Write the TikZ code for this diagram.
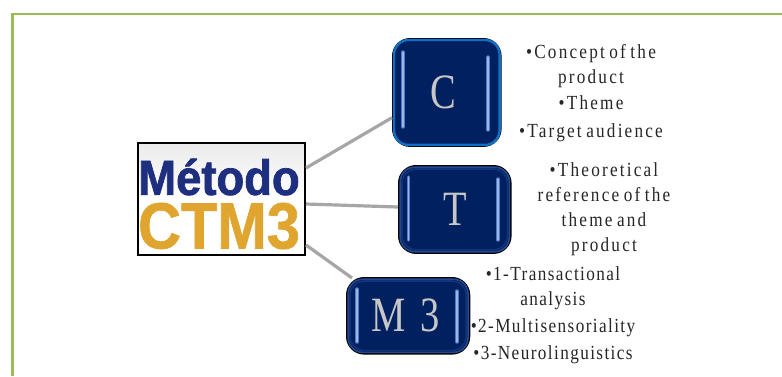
\documentclass[tikz,border=0pt]{standalone}
\usepackage{fontspec}
\setmainfont{Liberation Serif}
\newfontfamily\spaced[LetterSpace=11,FakeStretch=0.86,WordSpace=0.7]{Liberation Serif}
\newfontfamily\spacedtight[LetterSpace=7,FakeStretch=0.86,WordSpace=0.5]{Liberation Serif}
\newfontfamily\keyfont[FakeStretch=0.78]{Liberation Serif}
\newfontfamily\logoA[FakeStretch=0.92,BoldFeatures={FakeBold=1.5}]{Liberation Sans}
\newfontfamily\logoB[FakeStretch=0.91,BoldFeatures={FakeBold=1}]{Liberation Sans}
\definecolor{framegreen}{HTML}{9BBB59}
\definecolor{navy}{HTML}{002060}
\definecolor{linegray}{HTML}{A6A6A6}
\definecolor{logoblue}{HTML}{1F2F7F}
\definecolor{logogold}{HTML}{DFA52F}
\definecolor{glow}{HTML}{4F78C8}
\definecolor{edgeblue}{HTML}{0F6FC6}
\usetikzlibrary{calc}
\tikzset{
  x=0.75pt,y=-0.75pt,
  link/.style={draw=linegray,line width=2.4pt},
  keybox/.style={draw=black,line width=1.2pt,rounded corners=13pt,fill=navy,inner sep=0pt,
    text=black!22,font=\keyfont\fontsize{37}{37}\selectfont,anchor=north west},
  notes/.style={align=center,font=\spaced\fontsize{15}{18.6}\selectfont,text=black!85,inner sep=0pt},
  notestight/.style={notes,font=\spacedtight\fontsize{15}{18.6}\selectfont},
  shine/.style={draw=glow,line width=2.6pt,line cap=round},
  shinecore/.style={draw=glow!55!white,line width=1pt,line cap=round},
  rim/.style={rounded corners=11pt,line width=1.2pt},
}
\newcommand{\glowrims}[1]{%
  \draw[rim,draw=navy!55!glow] ([shift={(2.2,2.2)}]#1.north west) rectangle ([shift={(-2.2,-2.2)}]#1.south east);
  \draw[rim,draw=navy!78!glow] ([shift={(4,4)}]#1.north west) rectangle ([shift={(-4,-4)}]#1.south east);
}
\newcommand{\shinebar}[3]{%
  \draw[shine] (#1,#2) -- (#1,#3);
  \draw[shinecore] (#1,#2) -- (#1,#3);
}
\begin{document}
\begin{tikzpicture}
\useasboundingbox (0,0) rectangle (782,376);
\fill[white] (0,0) rectangle (782,376);
\draw[framegreen,line width=2.1pt] (12.5,376) -- (12.5,14) -- (782,14);
% logo
\node[draw=black,line width=1.2pt,minimum width=125.5pt,minimum height=84pt,inner sep=0pt,anchor=north west,
  top color=black!8,bottom color=white,middle color=white] (logo) at (137,142) {};
\node[text=logoblue,inner sep=0pt,font=\logoA\bfseries\fontsize{37}{37}\selectfont] (metodo) at (219,177) {Método};
\node[text=logogold,inner sep=0pt,font=\logoB\bfseries\fontsize{49}{49}\selectfont] (ctm) at (219,226) {CTM3};
% links
\coordinate (l1) at (306,168);
\coordinate (l2) at (306,204);
\coordinate (l3) at (306,245);
% boxes
\node[keybox,minimum width=81pt,minimum height=80.5pt] (c) at (392,38) {C\kern4.5pt};
\node[keybox,minimum width=84pt,minimum height=65.5pt] (t) at (398,165) {T};
\node[keybox,minimum width=92pt,minimum height=57pt] (m) at (346,277) {M\kern11pt 3\kern4pt};
\draw[link] (l1) -- ([yshift=1pt]c.west |- 0,119);
\draw[link] (l2) -- (t.west |- 0,207);
\draw[link] (l3) -- ([shift={(6,1)}]m.north west);
\draw[edgeblue,line width=1.8pt,rounded corners=11pt] ([shift={(2,2)}]c.north west) rectangle ([shift={(-2,-2)}]c.south east);
\glowrims{t}
\glowrims{m}
% shine bars
\shinebar{403}{52}{127}
\shinebar{488}{57}{130}
\shinebar{408.5}{177}{240}
\shinebar{498}{179}{240}
\shinebar{357}{289}{342}
\shinebar{457}{291}{342}
% notes
\node[notes] (n1) at (591,93) {•Concept of the\\product\\[1.5pt]•Theme\\[2pt]•Target audience};
\node[notes] (n2) at (604,209) {•Theoretical\\reference of the\\theme and\\product};
\node[notestight] (n3) at (553,315) {•1-Transactional\\analysis\\[2pt]•2-Multisensoriality\\[1.5pt]•3-Neurolinguistics};
\end{tikzpicture}
\end{document}
